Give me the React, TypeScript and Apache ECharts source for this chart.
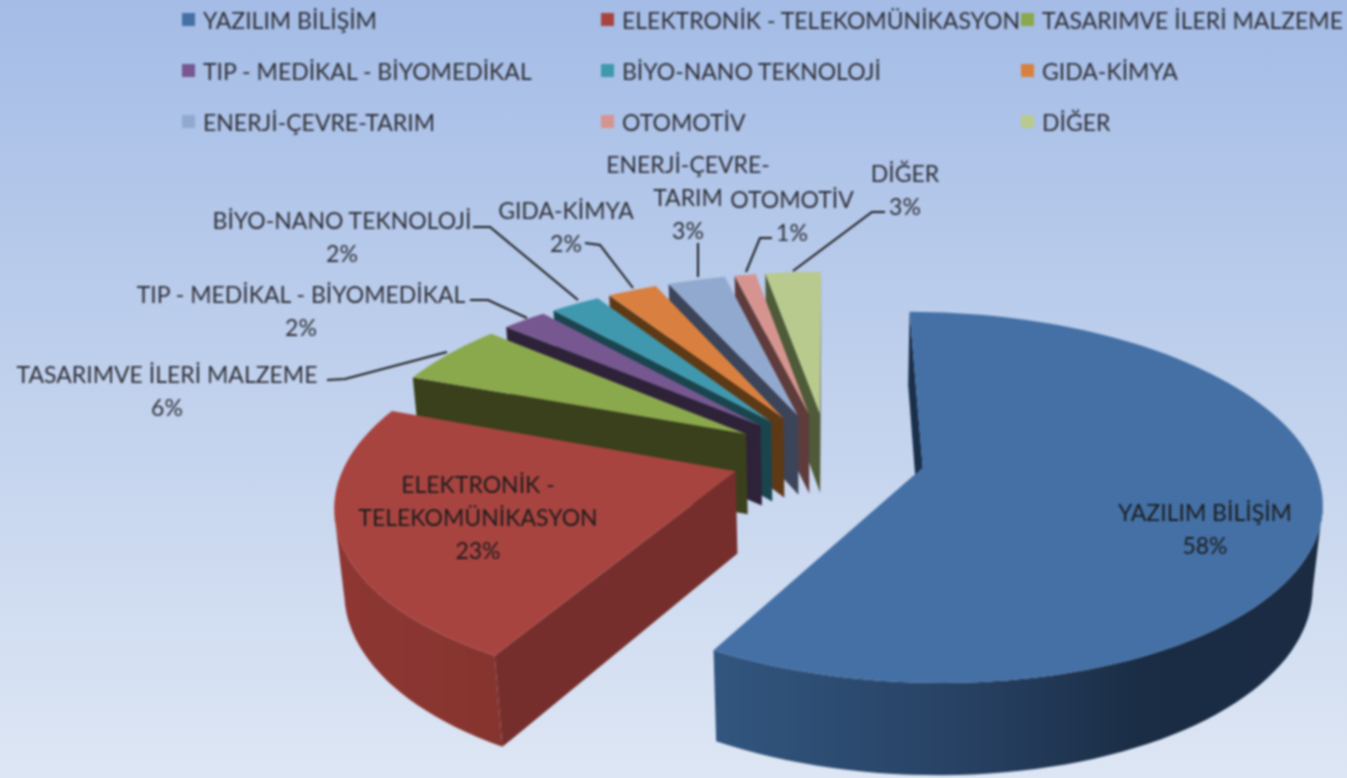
import React, { useEffect, useRef } from "react";
import * as echarts from "echarts";

// ---- data ----
const categories = [
  "YAZILIM BİLİŞİM",
  "ELEKTRONİK - TELEKOMÜNİKASYON",
  "TASARIMVE İLERİ MALZEME",
  "TIP - MEDİKAL - BİYOMEDİKAL",
  "BİYO-NANO TEKNOLOJİ",
  "GIDA-KİMYA",
  "ENERJİ-ÇEVRE-TARIM",
  "OTOMOTİV",
  "DİĞER",
];
const shares = [58.2, 22.5, 5.55, 2.2, 2.45, 2.45, 2.85, 1.05, 2.75];
const labelTexts = [
  "YAZILIM BİLİŞİM",
  "ELEKTRONİK -\nTELEKOMÜNİKASYON",
  "TASARIMVE İLERİ MALZEME",
  "TIP - MEDİKAL - BİYOMEDİKAL",
  "BİYO-NANO TEKNOLOJİ",
  "GIDA-KİMYA",
  "ENERJİ-ÇEVRE-\nTARIM",
  "OTOMOTİV",
  "DİĞER",
];

// ---- styles ----
const topColors = ["#4470a6", "#a84440", "#8aa84c", "#76578f", "#4098ae", "#d98040", "#92a9cf", "#d59490", "#b8ca8d"];
const faceColors = ["#1a2f4a", "#752e2b", "#39401b", "#2e2239", "#1a454f", "#5e3915", "#3b4458", "#5e3c3c", "#4f5a38"];
const wallStops: [number, string][][] = [
  [[0, "#32567f"], [0.45, "#263f60"], [0.7, "#1a2d45"], [1, "#1a2b42"]],
  [[0, "#8e3733"], [1, "#86342f"]],
  [[0, "#39401b"], [1, "#39401b"]],
  [[0, "#2e2239"], [1, "#2e2239"]],
  [[0, "#1a454f"], [1, "#1a454f"]],
  [[0, "#5e3915"], [1, "#5e3915"]],
  [[0, "#3b4458"], [1, "#3b4458"]],
  [[0, "#5e3c3c"], [1, "#5e3c3c"]],
  [[0, "#4f5a38"], [1, "#4f5a38"]],
];
const drawOrder = [8, 7, 6, 5, 4, 3, 2, 1, 0];
const FONT = "Lato";
const LABEL_SIZE = 23;
const LINE_H = 33;
const BG_TOP = "#a4bce6";
const BG_BOTTOM = "#dde6f4";
const labelLayout = [
  { x: 1205, y: 495, dark: true, line: [] as number[][] },
  { x: 478, y: 467, dark: true, line: [] as number[][] },
  { x: 167, y: 357, line: [[327, 380], [345, 379], [447, 352]] },
  { x: 301, y: 277, line: [[470, 300], [488, 300], [527, 318]] },
  { x: 342, y: 203, line: [[473, 227], [490, 227], [578, 300]] },
  { x: 566, y: 193, line: [[585, 243], [600, 245], [633, 288]] },
  { x: 688, y: 147, line: [[698, 243], [698, 277]] },
  { x: 792, y: 182, line: [[772, 238], [760, 238], [746, 272]] },
  { x: 905, y: 156, line: [[885, 212], [872, 212], [793, 271]] },
];

// ---- projection ----
const OX = 828, OY = 456, A = 388, B = 177, C = 83, PERSP = 0.16, DROP = 0.02, EXPLODE = 0.25;
const project = (u: number, v: number, z: number): number[] => {
  const w = 1 - PERSP * v + DROP * z;
  return [OX + (A * u) / w, OY + (B * v + C * z) / w];
};
const total = shares.reduce((a, b) => a + b, 0);
const RAD = Math.PI / 180;

const makeRenderItem = (i: number) => (_params: any, api: any) => {
  const value = api.value(0);
  const before = shares.slice(0, i).reduce((a, b) => a + b, 0);
  const t0 = (before / total) * 360;
  const t1 = t0 + (value / total) * 360;
  const mid = ((t0 + t1) / 2) * RAD;
  const au = EXPLODE * Math.sin(mid);
  const av = -EXPLODE * Math.cos(mid);
  const camV = 1 / PERSP;
  const steps = Math.max(4, Math.ceil((t1 - t0) / 2));
  const arc: { u: number; v: number; du: number; dv: number }[] = [];
  for (let s = 0; s <= steps; s++) {
    const a = (t0 + ((t1 - t0) * s) / steps) * RAD;
    const du = Math.sin(a), dv = -Math.cos(a);
    arc.push({ u: au + du, v: av + dv, du, dv });
  }
  const children: any[] = [];
  const face = (theta: number, sign: number) => {
    const a = theta * RAD;
    const nu = sign * Math.cos(a), nv = sign * Math.sin(a);
    if ((0 - au) * nu + (camV - av) * nv <= 0) return;
    const du = Math.sin(a), dv = -Math.cos(a);
    children.push({
      type: "polygon",
      shape: { points: [project(au, av, 0), project(au + du, av + dv, 0), project(au + du, av + dv, 1), project(au, av, 1)] },
      style: { fill: faceColors[i] },
    });
  };
  face(t0, -1);
  face(t1, 1);
  const vis = arc.filter((p) => (0 - p.u) * p.du + (camV - p.v) * p.dv > 0);
  if (vis.length > 1) {
    const pts = vis.map((p) => project(p.u, p.v, 0)).concat(vis.slice().reverse().map((p) => project(p.u, p.v, 1)));
    children.push({
      type: "polygon",
      shape: { points: pts },
      style: {
        fill: new echarts.graphic.LinearGradient(0, 0, 1, 0, wallStops[i].map(([offset, color]) => ({ offset, color }))),
      },
    });
  }
  children.push({
    type: "polygon",
    shape: { points: [project(au, av, 0)].concat(arc.map((p) => project(p.u, p.v, 0))) },
    style: { fill: topColors[i] },
  });
  const lay = labelLayout[i];
  if (lay.line.length) {
    children.push({
      type: "polyline",
      shape: { points: lay.line },
      style: { stroke: "#1d1d1d", lineWidth: 2, fill: "none" },
    });
  }
  children.push({
    type: "text",
    x: lay.x,
    y: lay.y,
    style: {
      text: `${labelTexts[i]}\n${Math.round((value / total) * 100)}%`,
      align: "center",
      verticalAlign: "top",
      font: `${LABEL_SIZE}px ${FONT}`,
      lineHeight: LINE_H,
      fill: lay.dark ? "#1c1c1c" : "#2f2f36",
    },
  });
  return { type: "group", children };
};

const legendColumn = (left: number, idx: number[]) => ({
  orient: "vertical" as const,
  left,
  top: 8,
  padding: 0,
  itemWidth: 13,
  itemHeight: 13,
  itemGap: 28,
  selectedMode: false,
  icon: "rect",
  data: idx.map((k) => ({ name: categories[k], itemStyle: { color: topColors[k] } })),
  textStyle: { fontFamily: FONT, fontSize: LABEL_SIZE, color: "#2f2f36", padding: [0, 0, 0, 3], height: 20, lineHeight: 20 },
});

export default function App() {
  const ref = useRef<HTMLDivElement>(null);
  useEffect(() => {
    const chart = echarts.init(ref.current!, undefined, { renderer: "svg" });
    chart.setOption({
      animation: false,
      backgroundColor: "transparent",
      legend: [legendColumn(182, [0, 3, 6]), legendColumn(601, [1, 4, 7]), legendColumn(1021, [2, 5, 8])],
      series: categories.map((name, i) => ({
        type: "custom",
        name,
        coordinateSystem: "none",
        z: 2 + drawOrder.indexOf(i),
        silent: true,
        itemStyle: { color: topColors[i] },
        data: [[shares[i]]],
        renderItem: makeRenderItem(i),
      })),
    });
    return () => chart.dispose();
  }, []);
  return (
    <div
      style={{
        position: "fixed",
        left: 0,
        top: 0,
        width: 1347,
        height: 778,
        overflow: "hidden",
        background: `linear-gradient(${BG_TOP}, ${BG_BOTTOM})`,
      }}
    >
      <div ref={ref} style={{ width: 1347, height: 778, filter: "blur(0.8px)" }} />
    </div>
  );
}
